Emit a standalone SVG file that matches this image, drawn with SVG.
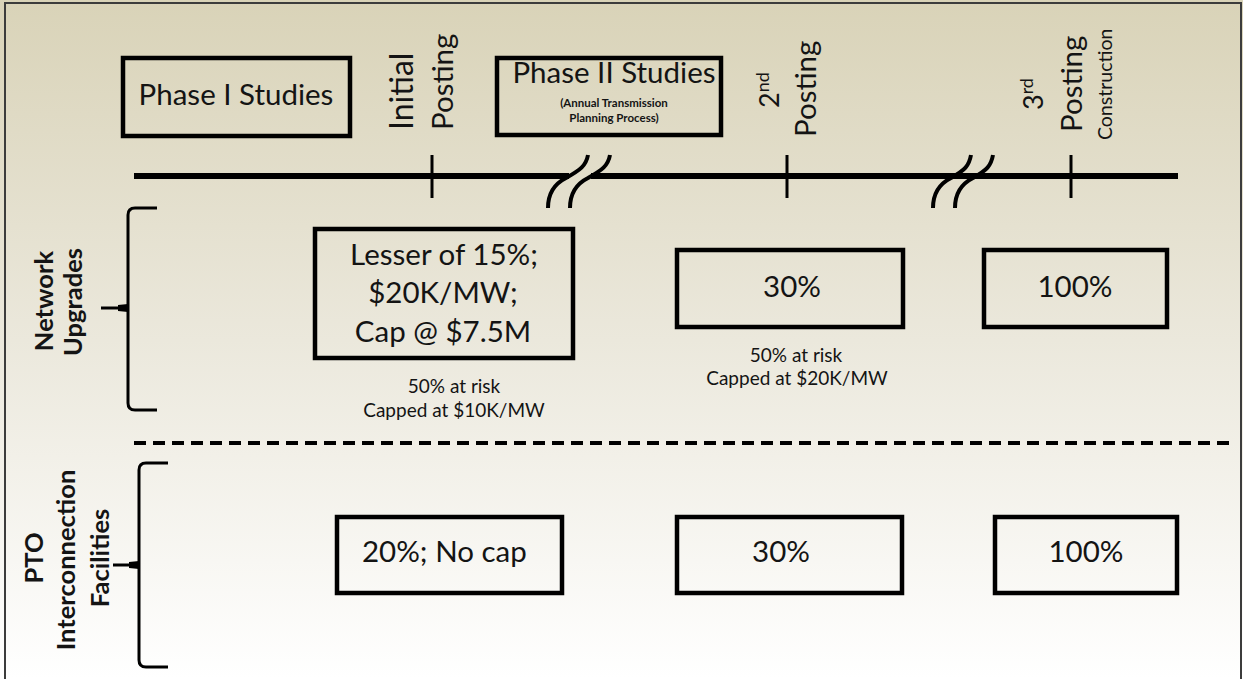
<svg xmlns="http://www.w3.org/2000/svg" width="1243" height="679" viewBox="0 0 1243 679">
  <defs>
    <linearGradient id="bg" x1="0" y1="0" x2="0" y2="1">
      <stop offset="0" stop-color="#d9d3b8"/>
      <stop offset="0.5" stop-color="#ebe8dc"/>
      <stop offset="1" stop-color="#ffffff"/>
    </linearGradient>
  </defs>
  <style>
    .box { fill: none; stroke: #000; stroke-width: 4.5; }
    .t { font-family: Lato, "Open Sans", sans-serif; fill: #141414; }
    .big { font-size: 29.5px; }
    .small { font-size: 19px; }
    .lbl { font-size: 25.5px; font-weight: bold; }
    .tick { stroke: #000; stroke-width: 3; }
    .line { stroke: #000; stroke-width: 6; fill: none; }
    .brk { stroke: #000; stroke-width: 4; fill: none; }
    .brace { stroke: #000; stroke-width: 3; fill: none; }
  </style>
  <rect x="0" y="0" width="1243" height="679" fill="url(#bg)"/>
  <path d="M5,680 L5,3 L1241,3 L1241,680" fill="none" stroke="#3c3c3c" stroke-width="2"/>

  <g id="connectors">
    <line class="line" x1="134" y1="176" x2="569" y2="176"/>
    <line class="line" x1="591" y1="176" x2="1178" y2="176"/>
    <path class="brk" d="M548,208 C548,194 554,184 566,178 C580,170 586,166 588,155"/>
    <path class="brk" d="M570,208 C570,194 576,184 588,178 C602,170 608,166 610,155"/>
    <path class="brk" d="M933,208 C933,194 939,184 951,178 C965,170 969,166 971,155"/>
    <path class="brk" d="M955,208 C955,194 961,184 973,178 C987,170 991,166 993,155"/>
    <line class="tick" x1="432" y1="155" x2="432" y2="198"/>
    <line class="tick" x1="787" y1="155" x2="787" y2="198"/>
    <line class="tick" x1="1071" y1="155" x2="1071" y2="198"/>
    <line x1="134" y1="443" x2="1229" y2="443" stroke="#000" stroke-width="4" stroke-dasharray="12 7"/>
  </g>

  <g id="phase1">
    <rect class="box" x="123" y="58" width="227" height="78"/>
    <text class="t big" x="236" y="105" text-anchor="middle">Phase I Studies</text>
  </g>

  <g id="phase2">
    <rect class="box" x="497" y="58" width="224" height="77"/>
    <text class="t big" x="614" y="83" text-anchor="middle">Phase II Studies</text>
    <text class="t" x="614" y="107" text-anchor="middle" font-size="11.5" font-weight="bold">(Annual Transmission</text>
    <text class="t" x="614" y="122" text-anchor="middle" font-size="11.5" font-weight="bold">Planning Process)</text>
  </g>

  <g id="initial-posting">
    <text class="t" font-size="32" transform="translate(413,130) rotate(-90)">Initial</text>
    <text class="t big" transform="translate(453,130) rotate(-90)">Posting</text>
  </g>

  <g id="second-posting">
    <text class="t" font-size="27" transform="translate(779,108) rotate(-90)">2<tspan font-size="18" dy="-10">nd</tspan></text>
    <text class="t big" transform="translate(816,137) rotate(-90)">Posting</text>
  </g>

  <g id="third-posting">
    <text class="t" font-size="27" transform="translate(1043,110) rotate(-90)">3<tspan font-size="18" dy="-10">rd</tspan></text>
    <text class="t big" transform="translate(1082,132) rotate(-90)">Posting</text>
    <text class="t" font-size="19.5" transform="translate(1112,140) rotate(-90)">Construction</text>
  </g>

  <g id="network-upgrades-label">
    <path class="brace" d="M157,208 L135,208 Q128,208 128,215 L128,403 Q128,410 135,410 L157,410"/>
    <line class="brace" x1="101" y1="308" x2="128" y2="308"/>
    <path d="M118,305 L128,304 L128,312 L118,311 Z" fill="#000"/>
    <text class="t lbl" text-anchor="middle" transform="translate(53,301) rotate(-90)">Network</text>
    <text class="t lbl" text-anchor="middle" transform="translate(82,302) rotate(-90)">Upgrades</text>
  </g>

  <g id="nu-initial">
    <rect class="box" x="315" y="229" width="258" height="129"/>
    <text class="t big" x="444" y="265" text-anchor="middle">Lesser of 15%;</text>
    <text class="t big" x="443" y="303" text-anchor="middle">$20K/MW;</text>
    <text class="t big" x="443" y="342" text-anchor="middle">Cap @ $7.5M</text>
  </g>
  <g id="nu-initial-note">
    <text class="t small" x="454" y="393" text-anchor="middle">50% at risk</text>
    <text class="t small" x="454" y="417" text-anchor="middle">Capped at $10K/MW</text>
  </g>

  <g id="nu-second">
    <rect class="box" x="677" y="250" width="226" height="77"/>
    <text class="t big" x="792" y="297" text-anchor="middle">30%</text>
  </g>
  <g id="nu-second-note">
    <text class="t small" x="796" y="362" text-anchor="middle">50% at risk</text>
    <text class="t small" x="797" y="385" text-anchor="middle">Capped at $20K/MW</text>
  </g>

  <g id="nu-third">
    <rect class="box" x="984" y="250" width="183" height="77"/>
    <text class="t big" x="1075" y="297" text-anchor="middle">100%</text>
  </g>

  <g id="pto-label">
    <path class="brace" d="M168,463 L146,463 Q139,463 139,470 L139,660 Q139,667 146,667 L168,667"/>
    <line class="brace" x1="113" y1="565" x2="139" y2="565"/>
    <path d="M129,562 L139,561 L139,569 L129,568 Z" fill="#000"/>
    <text class="t lbl" text-anchor="middle" transform="translate(43,558) rotate(-90)">PTO</text>
    <text class="t lbl" text-anchor="middle" transform="translate(75,560) rotate(-90)">Interconnection</text>
    <text class="t lbl" text-anchor="middle" transform="translate(109,558) rotate(-90)">Facilities</text>
  </g>

  <g id="pto-initial">
    <rect class="box" x="337" y="517" width="225" height="76"/>
    <text class="t big" x="362" y="562">20%; No cap</text>
  </g>

  <g id="pto-second">
    <rect class="box" x="677" y="517" width="225" height="76"/>
    <text class="t big" x="781" y="562" text-anchor="middle">30%</text>
  </g>

  <g id="pto-third">
    <rect class="box" x="995" y="517" width="182" height="76"/>
    <text class="t big" x="1086" y="562" text-anchor="middle">100%</text>
  </g>
</svg>
